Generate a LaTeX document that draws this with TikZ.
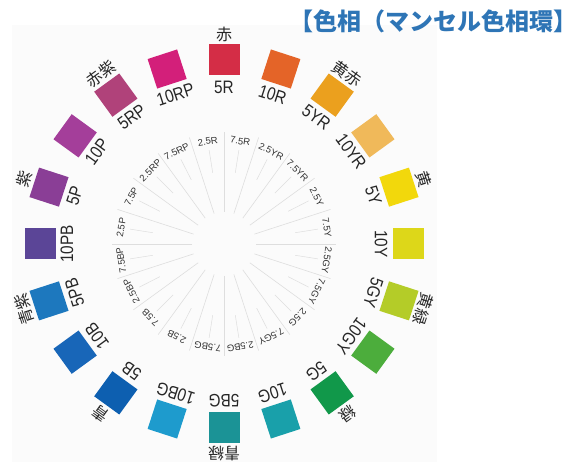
\documentclass[tikz,border=0pt]{standalone}
\usepackage{fontspec}
\setmainfont{Liberation Sans}
\newfontfamily\condfont[FakeStretch=0.85]{Liberation Sans}
\newfontfamily\jpfont{Noto Sans CJK JP}
\usetikzlibrary{calc}
\definecolor{titleblue}{RGB}{46,117,182}
\definecolor{c5R}{RGB}{212,45,70}
\definecolor{c10R}{RGB}{228,100,40}
\definecolor{c5YR}{RGB}{235,160,30}
\definecolor{c10YR}{RGB}{240,185,90}
\definecolor{c5Y}{RGB}{242,216,12}
\definecolor{c10Y}{RGB}{221,215,25}
\definecolor{c5GY}{RGB}{180,204,40}
\definecolor{c10GY}{RGB}{76,173,60}
\definecolor{c5G}{RGB}{17,152,74}
\definecolor{c10G}{RGB}{25,160,170}
\definecolor{c5BG}{RGB}{27,147,150}
\definecolor{c10BG}{RGB}{30,155,205}
\definecolor{c5B}{RGB}{13,95,176}
\definecolor{c10B}{RGB}{24,102,184}
\definecolor{c5PB}{RGB}{29,120,190}
\definecolor{c10PB}{RGB}{91,69,151}
\definecolor{c5P}{RGB}{138,62,150}
\definecolor{c10P}{RGB}{164,62,154}
\definecolor{c5RP}{RGB}{176,66,122}
\definecolor{c10RP}{RGB}{211,31,122}
\definecolor{spokegray}{RGB}{222,222,222}
\definecolor{panel}{RGB}{251,251,251}
\tikzset{
  sq/.style={minimum size=31pt, inner sep=0pt, draw=none},
  sqlab/.style={inner sep=0pt, font=\condfont\fontsize{18}{18}\selectfont, text=black!85},
  jplab/.style={inner sep=0pt, font=\jpfont\fontsize{16}{16}\selectfont, text=black!85},
  smalllab/.style={inner sep=0pt, font=\fontsize{9.5}{9.5}\selectfont, text=black!80},
  spoke/.style={draw=spokegray, line width=0.6pt},
  tick/.style={draw=spokegray, line width=0.5pt}
}
\begin{document}
\begin{tikzpicture}[x=1pt,y=1pt]
\useasboundingbox (0,0) rectangle (571,-462);
\fill[white] (0,0) rectangle (571,-462);
\fill[panel] (12,-25) rectangle (437,-462);
\coordinate (c) at (224,-244);
% spokes
\foreach \a in {0,18,...,342}
  \draw[spoke] ($(c)+(\a:32)$) -- ($(c)+(\a:112)$);
\foreach \a in {9,27,...,351}
  \draw[tick] ($(c)+(\a:72)$) -- ($(c)+(\a:95)$);
% squares and labels
\foreach \ang/\lab/\col [count=\i] in {90/5R/c5R, 72/10R/c10R, 54/5YR/c5YR, 36/10YR/c10YR, 18/5Y/c5Y, 0/10Y/c10Y, -18/5GY/c5GY, -36/10GY/c10GY, -54/5G/c5G, -72/10G/c10G, -90/5BG/c5BG, -108/10BG/c10BG, -126/5B/c5B, -144/10B/c10B, -162/5PB/c5PB, -180/10PB/c10PB, 162/5P/c5P, 144/10P/c10P, 126/5RP/c5RP, 108/10RP/c10RP}{
  \node[sq, fill=\col, rotate=\ang-90] (sq\i) at ($(c)+(\ang:184)$) {};
  \node[sqlab, rotate=\ang-90] (lab\i) at ($(c)+(\ang:157)$) {\lab};
}
% Japanese names
\foreach \ang/\nm [count=\i] in {90/赤, 54/黄赤, 18/黄, -18/黄緑, -54/緑, -90/青緑, -126/青, -162/青紫, 162/紫, 126/赤紫}{
  \node[jplab, rotate=\ang-90] (jp\i) at ($(c)+(\ang:210)$) {\nm};
}
% inner small labels
\foreach \ang/\lab [count=\i] in {99/2.5R, 81/7.5R, 63/2.5YR, 45/7.5YR, 27/2.5Y, 9/7.5Y, -9/2.5GY, -27/7.5GY, -45/2.5G, -63/7.5GY, -81/2.5BG, -99/7.5BG, -117/2.5B, -135/7.5B, -153/2.5BP, -171/7.5BP, 171/2.5P, 153/7.5P, 135/2.5RP, 117/7.5RP}{
  \node[smalllab, rotate=\ang-90] (in\i) at ($(c)+(\ang:104)$) {\lab};
}
% title
\node[anchor=west, inner sep=0pt, text=titleblue, font=\jpfont\bfseries\fontsize{24}{24}\selectfont] (title) at (289,-21.5) {【色相（マンセル色相環】};
\end{tikzpicture}
\end{document}
